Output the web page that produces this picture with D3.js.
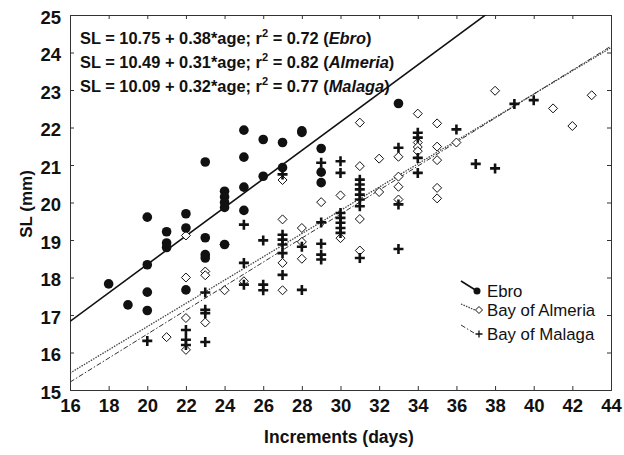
<!DOCTYPE html>
<html>
<head>
<meta charset="utf-8">
<script src="https://cdn.jsdelivr.net/npm/d3@7"></script>
<style>
  body { margin: 0; background: #fff; }
  text { font-family: "Liberation Sans", Arial, sans-serif; }
</style>
</head>
<body>
<svg id="chart" width="624" height="455"></svg>
<script>
// [increments (days), SL (mm)]
let ebro = [
    [18,17.83],[19,17.27],
    [20,19.61],[20,18.34],[20,17.61],[20,17.12],
    [21,19.22],[21,18.92],[21,18.80],
    [22,19.70],[22,19.32],[22,17.67],
    [23,21.08],[23,19.06],[23,18.61],[23,18.52],
    [24,20.30],[24,20.15],[24,20.00],[24,19.87],[24,18.88],
    [25,21.93],[25,21.21],[25,20.41],[25,19.79],
    [26,21.68],[26,20.70],
    [27,21.60],[27,20.93],
    [28,21.91],[28,21.87],
    [29,21.44],[29,20.81],[29,20.53],
    [33,22.64]
]
let almeria = [
    [21,16.41],
    [22,19.12],[22,18.00],[22,16.92],[22,16.07],
    [23,18.16],[23,18.06],[23,16.80],
    [24,18.88],[24,17.66],
    [25,17.90],
    [27,20.60],[27,19.55],[27,18.39],[27,17.66],
    [28,19.32],[28,18.95],[28,18.50],
    [29,20.01],
    [30,20.19],[30,19.05],
    [31,22.13],[31,20.97],[31,19.56],[31,18.72],
    [32,21.17],[32,20.28],
    [33,21.22],[33,20.69],[33,20.42],[33,20.08],
    [34,22.37],[34,21.60],[34,21.48],[34,21.37],
    [35,22.11],[35,21.49],[35,21.13],[35,20.39],[35,20.11],
    [36,21.60],
    [38,22.98],
    [41,22.51],[42,22.04],[43,22.86]
]
let malaga = [
    [20,16.31],
    [22,16.60],[22,16.34],[22,16.20],
    [23,17.60],[23,17.14],[23,17.05],[23,16.28],
    [25,19.41],[25,18.39],[25,17.81],
    [26,18.99],[26,17.81],[26,17.66],
    [27,20.75],[27,19.14],[27,19.01],[27,18.88],[27,18.65],[27,18.07],
    [28,18.82],[28,17.67],
    [29,21.06],[29,19.47],[29,18.90],[29,18.61],[29,18.48],
    [30,21.10],[30,20.79],[30,19.72],[30,19.59],[30,19.46],[30,19.32],[30,19.19],
    [31,20.61],[31,20.48],[31,20.35],[31,20.21],[31,20.08],[31,19.90],[31,18.52],
    [33,21.46],[33,19.95],[33,18.76],
    [34,21.86],[34,21.73],[34,21.19],[34,20.79],
    [36,21.95],[37,21.03],[38,20.91],[39,22.63],[40,22.73]
]
// SL = a + b*age
let fitNames = ['Ebro', 'Almeria', 'Malaga']
let fitA = [10.75, 10.49, 10.09]
let fitB = [0.38, 0.31, 0.32]
let fitR2 = ['0.72', '0.82', '0.77']
let legendNames = ['Ebro', 'Bay of Almeria', 'Bay of Malaga']
let xTicks = d3.range(16, 45, 2)
let yTicks = d3.range(15, 26, 1)

let svg = d3.select('#chart')
let pL = 70, pR = 611, pT = 15, pB = 390

let x = d3.scaleLinear().domain([16, 44]).range([pL, pR])
let y = d3.scaleLinear().domain([15, 25]).range([pB, pT])

svg.append('clipPath').attr('id', 'clip')
    .append('rect')
    .attr('x', pL).attr('y', pT)
    .attr('width', pR - pL).attr('height', pB - pT)

// axes, ticks pointing inward on all four sides
svg.append('g')
    .attr('class', 'xaxis')
    .attr('transform', `translate(0,${pB})`)
    .call(d3.axisBottom(x).tickValues(xTicks).tickSize(-4).tickPadding(9).tickFormat(d3.format('d')))
svg.append('g')
    .attr('transform', `translate(0,${pT})`)
    .call(d3.axisTop(x).tickValues(xTicks).tickSize(-4).tickFormat(''))
svg.append('g')
    .attr('class', 'yaxis')
    .attr('transform', `translate(${pL},0)`)
    .call(d3.axisLeft(y).tickValues(yTicks).tickSize(-4).tickPadding(9).tickFormat(d3.format('d')))
svg.append('g')
    .attr('transform', `translate(${pR},0)`)
    .call(d3.axisRight(y).tickValues(yTicks).tickSize(-4).tickFormat(''))

svg.selectAll('.domain').attr('stroke', '#333')
svg.selectAll('.tick line').attr('stroke', '#333')
svg.selectAll('.tick text')
    .attr('fill', '#111')
    .attr('font-size', 18.5)
    .attr('font-weight', 'bold')
    .attr('font-family', '"Liberation Sans", Arial, sans-serif')
svg.selectAll('.yaxis .tick text').attr('dy', '0.45em')

svg.append('text')
    .text('Increments (days)')
    .attr('x', 339)
    .attr('y', 443)
    .attr('text-anchor', 'middle')
    .attr('font-size', 17.5)
    .attr('font-weight', 'bold')
    .attr('fill', '#111')
svg.append('text')
    .text('SL (mm)')
    .attr('transform', 'translate(32,204)rotate(-90)')
    .attr('text-anchor', 'middle')
    .attr('font-size', 17)
    .attr('font-weight', 'bold')
    .attr('fill', '#111')

// regression lines
let lineStyles = [
    {dash: null, width: 1.6, color: '#111'},
    {dash: '1.5,1.2', width: 1.3, color: '#444'},
    {dash: '5,2,1.5,2', width: 1, color: '#333'}
]
let plot = svg.append('g').attr('clip-path', 'url(#clip)')
fitA.forEach((a, i) => {
    plot.append('path')
        .datum([16, 44])
        .attr('d', d3.line().x(d => x(d)).y(d => y(a + fitB[i] * d)))
        .attr('fill', 'none')
        .attr('stroke', lineStyles[i].color)
        .attr('stroke-width', lineStyles[i].width)
        .attr('stroke-dasharray', lineStyles[i].dash)
})

// markers
let diamond = 'M0,-4.5L4.5,0L0,4.5L-4.5,0Z'
let cross = 'M-5,0H5M0,-5V5'

plot.selectAll('.almeria')
    .data(almeria)
    .join('path')
    .attr('class', 'almeria')
    .attr('d', diamond)
    .attr('transform', d => `translate(${x(d[0])},${y(d[1])})`)
    .attr('fill', 'white')
    .attr('stroke', '#111')
    .attr('stroke-width', 1)
plot.selectAll('.malaga')
    .data(malaga)
    .join('path')
    .attr('class', 'malaga')
    .attr('d', cross)
    .attr('transform', d => `translate(${x(d[0])},${y(d[1])})`)
    .attr('stroke', '#111')
    .attr('stroke-width', 2.6)
plot.selectAll('.ebro')
    .data(ebro)
    .join('circle')
    .attr('class', 'ebro')
    .attr('r', 4.8)
    .attr('cx', d => x(d[0]))
    .attr('cy', d => y(d[1]))
    .attr('fill', '#111')

// equations
let eq = svg.append('g')
fitA.forEach((a, i) => {
    let t = eq.append('text')
        .attr('x', 80)
        .attr('y', 44 + i * 24)
        .attr('font-size', 16.4)
        .attr('font-weight', 'bold')
        .attr('fill', '#111')
    t.append('tspan').text(`SL = ${a.toFixed(2)} + ${fitB[i].toFixed(2)}*age; r`)
    t.append('tspan').text('2').attr('font-size', 11).attr('dy', -7)
    t.append('tspan').text(` = ${fitR2[i]} (`).attr('dy', 7)
    t.append('tspan').text(fitNames[i]).attr('font-style', 'italic')
    t.append('tspan').text(')')
})

// legend with slanted line samples
let lg = svg.append('g')
let lgY = [291, 310, 334]
let lgStart = [[461, 281], [461, 304], [461, 325]]
let lgEnd = [[477, 291], [475, 310], [474, 333]]
lgY.forEach((ly, i) => {
    lg.append('line')
        .attr('x1', lgStart[i][0]).attr('y1', lgStart[i][1])
        .attr('x2', lgEnd[i][0]).attr('y2', lgEnd[i][1])
        .attr('stroke', lineStyles[i].color)
        .attr('stroke-width', lineStyles[i].width)
        .attr('stroke-dasharray', lineStyles[i].dash)
    lg.append('text')
        .text(legendNames[i])
        .attr('x', 487)
        .attr('y', ly + 6)
        .attr('font-size', 16.8)
        .attr('fill', '#111')
})
lg.append('circle').attr('cx', 477).attr('cy', 291).attr('r', 3.5).attr('fill', '#111')
lg.append('path').attr('d', 'M0,-3.5L3.5,0L0,3.5L-3.5,0Z').attr('transform', 'translate(479,310)')
    .attr('fill', 'white').attr('stroke', '#111')
lg.append('path').attr('d', 'M-3.5,0H3.5M0,-3.5V3.5').attr('transform', 'translate(479,334)')
    .attr('stroke', '#111').attr('stroke-width', 1.3)
</script>
</body>
</html>
